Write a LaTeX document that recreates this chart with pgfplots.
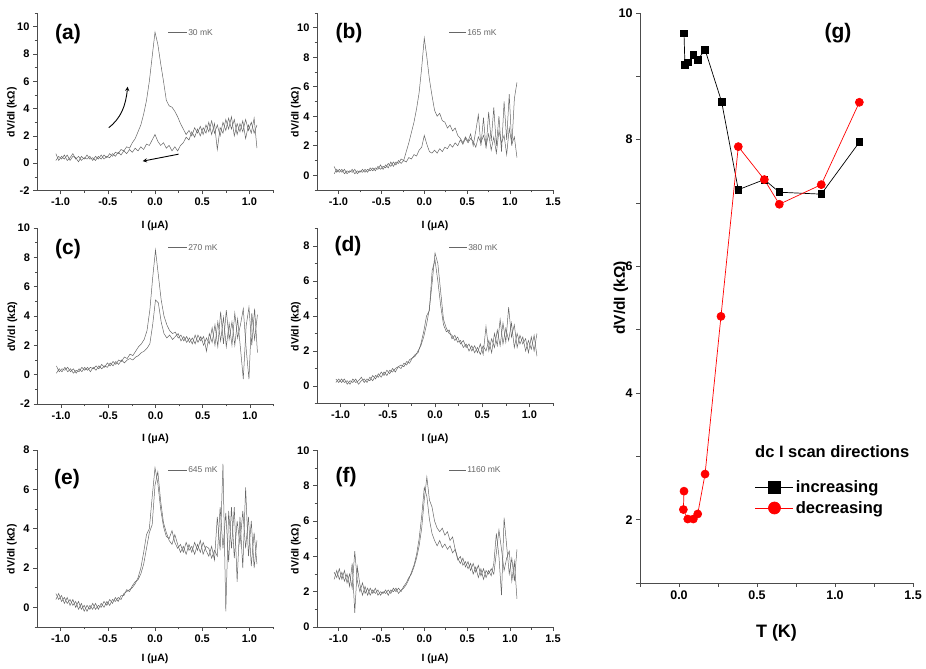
\documentclass[border=0pt]{standalone}
\usepackage{fontspec}
\setmainfont{Liberation Sans}
\usepackage{pgfplots}
\usepackage{pgfplotstable}
\pgfplotsset{compat=1.18}

% two sweeps per panel: u = peaked sweep, d = other sweep
\pgfplotstableread{
x u d
-1.05 0.7 0.2
-1.02 0.2 0.5
-0.99 0.5 0.3
-0.96 0.3 0.6
-0.93 0.6 0.2
-0.90 0.2 0.4
-0.87 0.5 0.7
-0.84 0.4 0.3
-0.81 0.1 0.5
-0.78 0.5 0.2
-0.75 0.3 0.4
-0.72 0.6 0.3
-0.69 0.3 0.5
-0.66 0.4 0.2
-0.63 0.2 0.5
-0.60 0.5 0.3
-0.57 0.3 0.6
-0.54 0.6 0.3
-0.51 0.4 0.5
-0.48 0.7 0.4
-0.45 0.5 0.7
-0.42 0.8 0.5
-0.39 0.7 0.8
-0.36 1.0 0.6
-0.33 0.9 0.9
-0.30 1.2 0.7
-0.27 1.1 1.0
-0.24 1.5 0.8
-0.21 1.8 1.1
-0.18 2.3 0.9
-0.15 2.8 1.2
-0.12 3.6 1.0
-0.09 4.6 1.4
-0.06 6.0 1.3
-0.03 7.8 1.7
0.00 9.6 2.1
0.03 8.7 1.6
0.06 7.3 1.3
0.09 6.0 1.5
0.12 4.6 1.1
0.15 4.2 1.3
0.18 4.1 0.9
0.21 3.8 1.2
0.24 3.4 0.9
0.27 2.9 1.3
0.30 2.5 1.5
0.33 2.1 1.9
0.36 2.4 1.7
0.39 2.0 2.3
0.42 2.6 1.9
0.45 2.2 2.5
0.48 2.7 2.0
0.51 2.1 2.6
0.54 2.8 2.2
0.57 2.3 3.0
0.60 3.1 2.1
0.63 2.2 2.9
0.66 2.8 1.0
0.69 2.0 2.6
0.72 3.0 2.2
0.75 2.4 3.2
0.78 3.3 2.5
0.81 2.5 3.4
0.84 3.2 2.0
0.87 2.1 2.9
0.90 2.9 2.3
0.93 2.3 3.1
0.96 3.2 1.8
0.99 2.4 2.8
1.02 3.0 2.2
1.05 2.2 3.3
1.08 2.8 1.1
}\tabA

\pgfplotstableread{
x u d
-1.05 0.6 0.1
-1.02 0.2 0.4
-0.99 0.4 0.2
-0.96 0.2 0.4
-0.93 0.4 0.1
-0.90 0.1 0.3
-0.87 0.3 0.2
-0.84 0.2 0.4
-0.81 0.4 0.1
-0.78 0.1 0.3
-0.75 0.3 0.2
-0.72 0.2 0.4
-0.69 0.4 0.2
-0.66 0.2 0.4
-0.63 0.5 0.3
-0.60 0.3 0.5
-0.57 0.5 0.3
-0.54 0.4 0.6
-0.51 0.7 0.4
-0.48 0.4 0.6
-0.45 0.7 0.5
-0.42 0.5 0.8
-0.39 0.9 0.6
-0.36 0.6 0.9
-0.33 0.9 0.7
-0.30 0.8 1.0
-0.27 1.1 0.8
-0.24 1.0 1.0
-0.21 1.6 0.9
-0.18 2.2 1.2
-0.15 2.9 1.1
-0.12 3.6 1.4
-0.09 4.5 1.3
-0.06 5.6 1.7
-0.03 7.3 1.9
0.00 9.3 2.7
0.03 8.0 2.1
0.06 6.5 1.6
0.09 5.4 1.5
0.12 4.4 1.7
0.15 4.0 1.5
0.18 4.2 1.8
0.21 3.7 1.6
0.24 3.6 1.9
0.27 3.2 1.8
0.30 3.4 2.1
0.33 3.0 1.9
0.36 3.2 2.2
0.39 2.7 2.0
0.42 2.5 2.4
0.45 2.2 2.1
0.48 2.6 2.5
0.51 2.3 2.2
0.54 2.8 2.5
0.57 2.0 2.3
0.60 3.0 1.9
0.63 4.1 2.6
0.66 2.0 2.2
0.69 3.9 2.7
0.72 1.8 2.0
0.75 4.3 2.8
0.78 2.3 1.7
0.81 4.6 2.6
0.84 2.0 1.5
0.87 4.0 3.0
0.90 1.6 2.2
0.93 5.0 2.7
0.96 2.4 1.4
0.99 5.5 3.2
1.02 2.0 2.1
1.05 5.2 2.6
1.08 6.3 1.2
}\tabB

\pgfplotstableread{
x u d
-1.05 0.6 0.1
-1.02 0.2 0.4
-0.99 0.4 0.2
-0.96 0.3 0.5
-0.93 0.5 0.2
-0.90 0.2 0.4
-0.87 0.4 0.1
-0.84 0.1 0.3
-0.81 0.4 0.2
-0.78 0.2 0.5
-0.75 0.5 0.3
-0.72 0.3 0.5
-0.69 0.5 0.2
-0.66 0.4 0.5
-0.63 0.6 0.3
-0.60 0.4 0.6
-0.57 0.7 0.4
-0.54 0.5 0.6
-0.51 0.8 0.5
-0.48 0.6 0.8
-0.45 0.9 0.6
-0.42 0.7 0.9
-0.39 1.0 0.7
-0.36 0.9 1.0
-0.33 1.2 0.8
-0.30 1.1 1.0
-0.27 1.4 1.1
-0.24 1.3 1.0
-0.21 1.6 1.2
-0.18 1.9 1.3
-0.15 2.1 1.5
-0.12 2.4 1.6
-0.09 3.0 1.8
-0.06 4.4 2.1
-0.03 6.6 3.4
0.00 8.5 5.1
0.03 6.8 4.9
0.06 5.1 3.6
0.09 4.0 2.8
0.12 3.4 2.5
0.15 3.0 2.7
0.18 2.8 2.4
0.21 2.9 2.6
0.24 2.5 2.8
0.27 2.7 2.3
0.30 2.3 2.6
0.33 2.6 2.2
0.36 2.2 2.5
0.39 2.5 2.1
0.42 2.1 2.7
0.45 2.7 2.2
0.48 2.3 2.6
0.51 2.6 2.0
0.54 1.6 2.5
0.57 2.8 2.1
0.60 2.2 3.2
0.63 3.4 2.0
0.66 1.9 3.6
0.69 4.3 2.3
0.72 2.1 3.9
0.75 4.4 1.9
0.78 2.4 3.5
0.81 3.6 2.0
0.84 2.0 4.2
0.87 3.8 2.5
0.90 1.8 3.4
0.93 -0.3 4.5
0.96 3.3 1.8
0.99 4.6 -0.3
1.02 2.0 4.2
1.05 4.5 2.4
1.08 1.5 4.1
}\tabC

\pgfplotstableread{
x u d
-1.05 0.4 0.2
-1.02 0.2 0.4
-0.99 0.4 0.2
-0.96 0.2 0.4
-0.93 0.3 0.1
-0.90 0.1 0.3
-0.87 0.4 0.2
-0.84 0.2 0.4
-0.81 0.3 0.1
-0.78 0.5 0.3
-0.75 0.2 0.4
-0.72 0.4 0.2
-0.69 0.3 0.5
-0.66 0.6 0.3
-0.63 0.4 0.6
-0.60 0.7 0.5
-0.57 0.5 0.8
-0.54 0.8 0.6
-0.51 0.6 0.9
-0.48 0.9 0.7
-0.45 0.8 1.0
-0.42 1.0 0.8
-0.39 1.1 1.1
-0.36 1.0 1.2
-0.33 1.3 1.1
-0.30 1.2 1.4
-0.27 1.5 1.3
-0.24 1.6 1.6
-0.21 1.7 1.8
-0.18 2.0 1.9
-0.15 2.3 2.4
-0.12 2.8 3.1
-0.09 3.5 4.0
-0.06 4.4 4.3
-0.03 5.9 6.6
0.00 7.6 7.2
0.03 7.0 6.0
0.06 5.4 4.6
0.09 3.8 3.5
0.12 3.3 3.1
0.15 3.0 3.2
0.18 2.9 2.7
0.21 2.6 2.9
0.24 2.8 2.5
0.27 2.4 2.6
0.30 2.6 2.2
0.33 2.2 2.4
0.36 2.4 2.0
0.39 2.0 2.3
0.42 2.3 1.9
0.45 1.9 2.2
0.48 2.4 1.8
0.51 1.8 2.3
0.54 3.4 2.0
0.57 2.0 2.6
0.60 2.7 1.9
0.63 2.2 3.0
0.66 3.2 2.3
0.69 2.3 3.8
0.72 3.6 2.4
0.75 2.5 3.3
0.78 4.5 2.6
0.81 2.8 3.6
0.84 3.5 2.2
0.87 2.2 3.0
0.90 2.9 2.4
0.93 2.4 2.8
0.96 2.7 2.0
0.99 1.9 2.6
1.02 2.8 2.1
1.05 2.0 2.9
1.08 3.0 1.7
}\tabD

\pgfplotstableread{
x u d
-1.05 0.7 0.4
-1.02 0.4 0.7
-0.99 0.6 0.3
-0.96 0.2 0.5
-0.93 0.5 0.2
-0.90 0.1 0.4
-0.87 0.4 0.1
-0.84 0.0 0.3
-0.81 0.3 -0.1
-0.78 -0.1 0.2
-0.75 0.1 -0.2
-0.72 -0.2 0.1
-0.69 0.1 -0.1
-0.66 -0.1 0.2
-0.63 0.2 -0.1
-0.60 -0.1 0.1
-0.57 0.2 0.0
-0.54 0.0 0.3
-0.51 0.3 0.1
-0.48 0.1 0.4
-0.45 0.4 0.2
-0.42 0.3 0.5
-0.39 0.5 0.3
-0.36 0.4 0.6
-0.33 0.7 0.6
-0.30 0.8 0.9
-0.27 0.9 0.8
-0.24 1.0 1.1
-0.21 1.2 1.3
-0.18 1.5 1.4
-0.15 2.0 1.7
-0.12 2.8 2.2
-0.09 3.7 3.0
-0.06 4.0 3.8
-0.03 5.6 4.2
0.00 7.1 6.2
0.03 6.3 6.9
0.06 5.0 5.4
0.09 4.1 4.3
0.12 3.6 3.8
0.15 3.5 3.4
0.18 3.9 3.2
0.21 3.3 3.7
0.24 3.0 3.2
0.27 3.2 2.8
0.30 2.8 3.1
0.33 3.3 2.7
0.36 2.9 3.2
0.39 3.1 2.8
0.42 2.7 3.3
0.45 3.2 2.9
0.48 2.8 3.4
0.51 3.3 2.7
0.54 2.9 3.1
0.57 2.6 3.0
0.60 3.1 2.5
0.63 2.4 2.9
0.66 4.6 2.6
0.69 2.9 5.1
0.72 7.3 3.0
0.75 -0.2 4.8
0.78 4.9 2.3
0.81 3.0 5.1
0.84 5.1 2.5
0.87 1.3 4.4
0.90 4.6 3.2
0.93 2.0 4.9
0.96 6.1 3.0
0.99 2.6 4.6
1.02 4.4 2.1
1.05 2.0 3.8
1.08 3.4 2.2
}\tabE

\pgfplotstableread{
x u d
-1.05 3.1 2.7
-1.02 2.8 3.2
-0.99 3.3 2.7
-0.96 2.7 3.1
-0.93 3.2 2.6
-0.90 2.5 3.0
-0.87 3.0 2.3
-0.84 2.2 3.6
-0.81 4.3 0.8
-0.78 2.6 3.4
-0.75 2.0 2.4
-0.72 2.5 1.8
-0.69 1.9 2.3
-0.66 2.2 1.8
-0.63 1.8 2.2
-0.60 2.1 1.9
-0.57 1.9 2.2
-0.54 2.1 1.8
-0.51 1.8 2.0
-0.48 2.0 1.9
-0.45 1.9 2.1
-0.42 2.1 1.8
-0.39 1.9 2.1
-0.36 2.2 2.0
-0.33 2.0 2.2
-0.30 2.2 1.9
-0.27 2.0 2.1
-0.24 2.3 2.2
-0.21 2.5 2.4
-0.18 2.8 2.7
-0.15 3.0 3.1
-0.12 3.4 3.5
-0.09 3.9 4.1
-0.06 4.6 5.0
-0.03 5.6 6.3
0.00 7.2 7.9
0.03 8.5 7.4
0.06 7.2 6.1
0.09 6.8 5.3
0.12 6.0 4.9
0.15 5.6 4.6
0.18 5.4 4.9
0.21 5.6 4.5
0.24 5.2 4.7
0.27 5.4 4.4
0.30 4.9 4.6
0.33 5.1 4.2
0.36 4.4 4.4
0.39 3.9 3.8
0.42 3.6 4.0
0.45 3.9 3.5
0.48 3.4 3.7
0.51 3.7 3.3
0.54 3.2 3.6
0.57 3.6 3.0
0.60 3.1 3.4
0.63 3.5 2.8
0.66 2.9 3.3
0.69 3.3 2.7
0.72 2.8 3.2
0.75 3.2 3.0
0.78 2.9 3.3
0.81 3.6 3.0
0.84 5.3 4.2
0.87 4.0 5.5
0.90 1.8 4.4
0.93 6.2 3.2
0.96 4.6 3.9
0.99 3.0 4.3
1.02 3.9 2.6
1.05 2.6 3.7
1.08 4.4 1.6
}\tabF

\pgfplotsset{
  panel/.style={
    scale only axis, width=236pt,
    anchor=south west,
    axis lines*=left,
    axis line style={black!70, line width=0.6pt},
    tick align=outside,
    major tick length=4pt, minor tick length=2.5pt,
    every tick/.style={black!70, line width=0.6pt},
    xmin=-1.25, xmax=1.25,
    xtick={-1,-0.5,0,0.5,1},
    minor xtick={-0.75,-0.25,0.25,0.75,1.25},
    xticklabel={\pgfmathprintnumber[fixed,fixed zerofill,precision=1,assume math mode=true]{\tick}},
    /pgf/number format/assume math mode=true,
    ticklabel style={font=\fontsize{11}{13}\selectfont\bfseries},
    xlabel={I (μA)}, ylabel={dV/dI (kΩ)},
    label style={font=\fontsize{10.5}{12}\selectfont\bfseries},
    xlabel style={at={(axis description cs:0.5,-0.2)}, anchor=center},
    ylabel style={at={(axis description cs:-0.106,0.44)}, anchor=center},
  },
  rpanel/.style={panel,
    ylabel style={at={(axis description cs:-0.089,0.44)}, anchor=center}},
  trace/.style={black!60, line width=0.5pt, no markers},
}

\begin{document}
\begin{tikzpicture}
\useasboundingbox (0,0) rectangle (926pt,669pt);

% (a)
\begin{axis}[panel, at={(37pt,478.5pt)}, height=177.5pt,
    ymin=-2, ymax=11, ytick={-2,0,...,10}, minor ytick={-1,1,...,11}]
\addplot[trace] table[x=x, y=u] {\tabA};
\addplot[trace] table[x=x, y=d] {\tabA};
\draw[-stealth, line width=0.9pt] (axis cs:-0.49,2.6) .. controls (axis cs:-0.36,3.3) and (axis cs:-0.31,4.2) .. (axis cs:-0.29,5.6);
\draw[-stealth, line width=0.9pt] (axis cs:0.25,0.66) -- (axis cs:-0.13,0.15);
\end{axis}

% (b)
\begin{axis}[rpanel, at={(317pt,479pt)}, height=177pt, xmax=1.5,
    xtick={-1,-0.5,0,0.5,1,1.5}, minor xtick={-0.75,-0.25,0.25,0.75,1.25},
    ymin=-1, ymax=11, ytick={0,2,...,10}, minor ytick={-1,1,...,11}]
\addplot[trace] table[x=x, y=u] {\tabB};
\addplot[trace] table[x=x, y=d] {\tabB};
\end{axis}

% (c)
\begin{axis}[panel, at={(37.5pt,265pt)}, height=176pt,
    ymin=-2, ymax=10, ytick={-2,0,...,10}, minor ytick={-1,1,...,9}]
\addplot[trace] table[x=x, y=u] {\tabC};
\addplot[trace] table[x=x, y=d] {\tabC};
\end{axis}

% (d)
\begin{axis}[rpanel, at={(317pt,265.5pt)}, height=175pt,
    ymin=-1, ymax=9, ytick={0,2,...,8}, minor ytick={-1,1,...,9}]
\addplot[trace] table[x=x, y=u] {\tabD};
\addplot[trace] table[x=x, y=d] {\tabD};
\end{axis}

% (e)
\begin{axis}[panel, at={(37pt,42pt)}, height=177pt,
    xlabel style={at={(axis description cs:0.5,-0.18)}},
    ymin=-1, ymax=8, ytick={0,2,...,8}, minor ytick={-1,1,...,7}]
\addplot[trace] table[x=x, y=u] {\tabE};
\addplot[trace] table[x=x, y=d] {\tabE};
\end{axis}

% (f)
\begin{axis}[rpanel, at={(317pt,42pt)}, height=176.5pt, xmax=1.5,
    xlabel style={at={(axis description cs:0.5,-0.18)}},
    xtick={-1,-0.5,0,0.5,1,1.5}, minor xtick={-0.75,-0.25,0.25,0.75,1.25},
    ymin=0, ymax=10, ytick={0,2,...,10}, minor ytick={1,3,...,9}]
\addplot[trace] table[x=x, y=u] {\tabF};
\addplot[trace] table[x=x, y=d] {\tabF};
\end{axis}

% (g)
\begin{axis}[scale only axis, width=273pt, height=570pt,
    at={(640pt,86pt)}, anchor=south west,
    axis lines*=left,
    axis line style={black!70, line width=0.6pt},
    tick align=outside,
    major tick length=4pt, minor tick length=4pt,
    every tick/.style={black!70, line width=0.6pt},
    xmin=-0.25, xmax=1.5, ymin=1, ymax=10,
    xtick={0,0.5,1,1.5}, minor xtick={-0.25,0.25,0.75,1.25},
    ytick={2,4,...,10}, minor ytick={1,3,...,9},
    xticklabel={\pgfmathprintnumber[fixed,fixed zerofill,precision=1,assume math mode=true]{\tick}},
    /pgf/number format/assume math mode=true,
    ticklabel style={font=\fontsize{12.5}{14}\selectfont\bfseries},
    xlabel={T (K)}, ylabel={dV/dI (kΩ)},
    xlabel style={font=\fontsize{18}{20}\selectfont\bfseries, at={(axis description cs:0.5,-0.088)}, anchor=center},
    ylabel style={font=\fontsize{15.5}{17}\selectfont\bfseries, at={(axis description cs:-0.07,0.5)}, anchor=center},
    legend style={at={(axis description cs:0.421,0.184)}, anchor=north west,
      draw=none, fill=none, inner sep=0pt, row sep=3.5pt,
      font=\fontsize{16.5}{18}\selectfont\bfseries},
    legend cell align=left,
    legend image code/.code={
      \draw[#1] (0pt,0pt) -- (38pt,0pt);
      \draw[#1, mark size=6pt, only marks] plot coordinates {(19pt,0pt)};
    },
]
\addplot[black, line width=0.7pt, mark=square*, mark size=3.4pt]
  coordinates {(0.032,9.68) (0.038,9.18) (0.056,9.22) (0.092,9.34) (0.12,9.26) (0.167,9.42)
               (0.273,8.60) (0.38,7.21) (0.547,7.37) (0.643,7.17) (0.912,7.14) (1.156,7.96)};
\addlegendentry{increasing}
\addplot[red, line width=0.7pt, mark=*, mark size=4pt]
  coordinates {(0.032,2.45) (0.028,2.16) (0.056,2.01) (0.092,2.01) (0.12,2.09) (0.167,2.72)
               (0.269,5.21) (0.38,7.89) (0.547,7.37) (0.643,6.98) (0.912,7.29) (1.156,8.59)};
\addlegendentry{decreasing}
\end{axis}

% panel letters
\begin{scope}[every node/.style={font=\fontsize{21}{23}\selectfont\bfseries}]
\node at (68pt,635pt) {(a)};
\node at (349pt,636pt) {(b)};
\node at (68pt,420pt) {(c)};
\node at (348pt,423pt) {(d)};
\node at (67pt,190pt) {(e)};
\node at (346pt,192pt) {(f)};
\node at (838pt,636pt) {(g)};
\end{scope}
\node[anchor=west, font=\fontsize{16.5}{18}\selectfont\bfseries, inner sep=0pt] at (755pt,217pt) {dc I scan directions};

% temperature keys
\begin{scope}[every node/.style={anchor=west, inner sep=1pt, font=\fontsize{8.5}{10}\selectfont}]
\draw[black!60, line width=0.5pt] (168pt,636.7pt) -- (187pt,636.7pt) node {30 mK};
\draw[black!60, line width=0.5pt] (449pt,636.7pt) -- (466pt,636.7pt) node {165 mK};
\draw[black!60, line width=0.5pt] (168pt,421.7pt) -- (187pt,421.7pt) node {270 mK};
\draw[black!60, line width=0.5pt] (449pt,421.7pt) -- (467pt,421.7pt) node {380 mK};
\draw[black!60, line width=0.5pt] (168pt,199pt) -- (187pt,199pt) node {645 mK};
\draw[black!60, line width=0.5pt] (449pt,199pt) -- (466pt,199pt) node {1160 mK};
\end{scope}
\end{tikzpicture}
\end{document}
